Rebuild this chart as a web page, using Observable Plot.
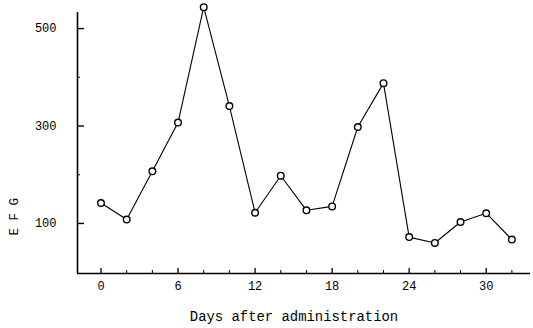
<!DOCTYPE html>
<html>
<head>
<meta charset="utf-8">
<script src="https://cdn.jsdelivr.net/npm/d3@7"></script>
<script src="https://cdn.jsdelivr.net/npm/@observablehq/plot@0.6"></script>
<style>
  html, body { margin: 0; padding: 0; background: #fff; }
  #chart svg { display: block; }
</style>
</head>
<body>
<div id="chart"></div>
<script>
const days = [0, 2, 4, 6, 8, 10, 12, 14, 16, 18, 20, 22, 24, 26, 28, 30, 32];
const efg  = [142, 108, 207, 307, 544, 341, 122, 198, 127, 135, 298, 388, 72, 60, 103, 121, 67];
const xMajorTicks = [0, 6, 12, 18, 24, 30];
const xMinorTicks = [2, 4, 8, 10, 14, 16, 20, 22, 26, 28, 32];
const yMajorTicks = [100, 300, 500];
const yMinorTicks = [200, 400];
const xDomain = [-1.83, 33.45];
const yDomain = [-2.7, 533];
const xTitle = "Days after administration";
const yTitle = "E F G";

const data = days.map((d, i) => ({day: d, value: efg[i]}));
const font = "'Liberation Mono', 'DejaVu Sans Mono', monospace";

const chart = Plot.plot({
  width: 533,
  height: 328,
  marginLeft: 77,
  marginRight: 3,
  marginTop: 12,
  marginBottom: 55,
  style: {fontFamily: font, fontSize: "12px", color: "#000", background: "#fff"},
  x: {domain: xDomain},
  y: {domain: yDomain},
  marks: [
    Plot.ruleX([xDomain[0]], {stroke: "#000", strokeWidth: 1.6}),
    Plot.ruleY([yDomain[0]], {stroke: "#000", strokeWidth: 1.6}),
    Plot.axisX({ticks: xMajorTicks, tickSize: -5, tickFormat: () => "", strokeWidth: 1.3, label: null}),
    Plot.axisX({ticks: xMinorTicks, tickSize: -3, tickFormat: () => "", strokeWidth: 1, label: null}),
    Plot.axisX({ticks: xMajorTicks, tickSize: 0, tickPadding: 8, label: null, fontSize: 12}),
    Plot.axisY({ticks: yMajorTicks, tickSize: -7, tickFormat: () => "", strokeWidth: 1.4, label: null}),
    Plot.axisY({ticks: yMinorTicks, tickSize: -3, tickFormat: () => "", strokeWidth: 1, label: null}),
    Plot.axisY({ticks: yMajorTicks, tickSize: 0, tickPadding: 21, label: null, fontSize: 12}),
    Plot.text([xTitle], {frameAnchor: "bottom", dx: -10, dy: 47, fontSize: 13.9, fill: "#000"}),
    Plot.text([yTitle], {frameAnchor: "bottom-left", rotate: -90, textAnchor: "start", dx: -60, dy: -38, fontSize: 12.5, fill: "#000"}),
    Plot.line(data, {x: "day", y: "value", stroke: "#000", strokeWidth: 1.1}),
    Plot.dot(data, {x: "day", y: "value", r: 3.3, stroke: "#000", strokeWidth: 1.4, fill: "#fff"})
  ]
});
document.getElementById("chart").appendChild(chart);
</script>
</body>
</html>
